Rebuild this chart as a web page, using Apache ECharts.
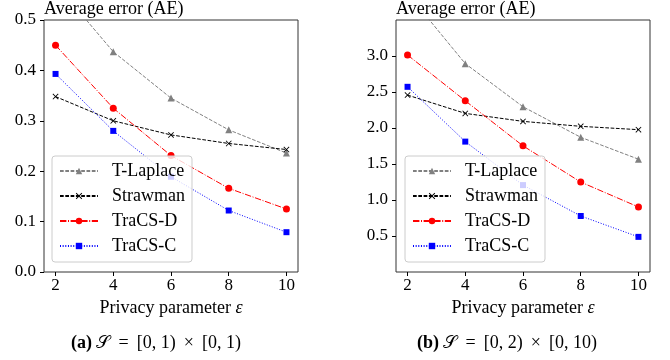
<!DOCTYPE html>
<html>
<head>
<meta charset="utf-8">
<script src="https://cdn.jsdelivr.net/npm/echarts@6/dist/echarts.min.js"></script>
<style>
  html, body { margin: 0; padding: 0; background: #fff; }
  #chart { width: 670px; height: 360px; }
</style>
</head>
<body>
<div id="chart"></div>
<script>
// privacy parameter epsilon
const epsilons = [2, 4, 6, 8, 10];
const seriesNames = ['T-Laplace', 'Strawman', 'TraCS-D', 'TraCS-C'];

// (a) S = [0,1) x [0,1)
const tLaplaceA = [0.572, 0.437, 0.345, 0.282, 0.236];
const strawmanA = [0.348, 0.300, 0.272, 0.255, 0.243];
const tracsDA = [0.450, 0.325, 0.231, 0.166, 0.125];
const tracsCA = [0.393, 0.280, 0.189, 0.122, 0.079];

// (b) S = [0,2) x [0,10)
const tLaplaceB = [3.87, 2.894, 2.295, 1.871, 1.567];
const strawmanB = [2.457, 2.203, 2.092, 2.023, 1.977];
const tracsDB = [3.014, 2.378, 1.752, 1.249, 0.903];
const tracsCB = [2.572, 1.811, 1.207, 0.778, 0.488];

const yTicksA = [0, 0.1, 0.2, 0.3, 0.4, 0.5];
const yTicksB = [0.5, 1.0, 1.5, 2.0, 2.5, 3.0];

const FONT = "'Liberation Serif', 'DejaVu Serif', serif";
const crossPath = 'path://M0,1L1,0L5,4L9,0L10,1L6,5L10,9L9,10L5,6L1,10L0,9L4,5Z';

const styles = {
  'T-Laplace': { color: '#808080', type: [3.7, 1.6], symbol: 'triangle', size: 7 },
  'Strawman': { color: '#000000', type: [3.7, 1.6], symbol: crossPath, size: 6 },
  'TraCS-D': { color: '#ff0000', type: [6.4, 1.6, 1, 1.6], symbol: 'circle', size: 7 },
  'TraCS-C': { color: '#0000ff', type: [1, 1.65], symbol: 'rect', size: 6 }
};

function pairs(vals) {
  return epsilons.map((e, i) => [e, vals[i]]);
}

function makeSeries(name, vals, idx) {
  const s = styles[name];
  return {
    name: name,
    type: 'line',
    xAxisIndex: idx,
    yAxisIndex: idx,
    data: pairs(vals),
    symbol: s.symbol,
    symbolSize: s.size,
    showAllSymbol: true,
    lineStyle: { color: s.color, width: 1, type: s.type },
    itemStyle: { color: s.color },
    emphasis: { disabled: true },
    animation: false
  };
}

function yAxisOf(idx, min, max, ticks) {
  return {
    type: 'value', gridIndex: idx, min: min, max: max,
    name: 'Average error (AE)',
    nameLocation: 'end', nameGap: 2,
    nameTextStyle: { fontFamily: FONT, fontSize: 18, color: '#000', align: 'left', verticalAlign: 'bottom' },
    axisLine: { show: false },
    axisTick: { show: true, length: 4, lineStyle: { color: '#000' }, customValues: ticks },
    axisLabel: { color: '#000', fontSize: 17, fontFamily: FONT, margin: 8,
      customValues: ticks, formatter: v => v.toFixed(1) },
    splitLine: { show: false }
  };
}

function caption(x, tag, text) {
  return {
    type: 'text',
    style: {
      x: x, y: 343, align: 'center', verticalAlign: 'middle',
      text: '{b|' + tag + '} {s|𝒮} \u2009=\u2009 ' + text,
      font: '18px ' + FONT, fill: '#000',
      rich: {
        b: { fontFamily: FONT, fontSize: 18, fontWeight: 'bold', fill: '#000' },
        s: { fontFamily: FONT, fontSize: 18, fill: '#000' }
      }
    }
  };
}

const chart = echarts.init(document.getElementById('chart'));

const gridLefts = [44, 396];

const option = {
  backgroundColor: '#fff',
  animation: false,
  textStyle: { fontFamily: FONT },
  grid: gridLefts.map(l => ({
    left: l, top: 19, width: 254, height: 253,
    show: true, borderColor: '#333', borderWidth: 1, backgroundColor: 'transparent'
  })),
  xAxis: [0, 1].map(i => ({
    type: 'value',
    gridIndex: i,
    min: 1.6,
    max: 10.4,
    name: 'Privacy parameter {i|ε}',
    nameLocation: 'middle',
    nameGap: 24,
    nameTextStyle: {
      fontFamily: FONT, fontSize: 18, color: '#000', verticalAlign: 'top',
      rich: { i: { fontFamily: FONT, fontSize: 18, fontStyle: 'italic', color: '#000' } }
    },
    axisLine: { show: false },
    axisTick: { show: true, length: 4, lineStyle: { color: '#000' }, customValues: epsilons },
    axisLabel: { color: '#000', fontSize: 17, fontFamily: FONT, margin: 5, customValues: epsilons },
    splitLine: { show: false }
  })),
  yAxis: [
    yAxisOf(0, 0, 0.5, yTicksA),
    yAxisOf(1, 0, 3.5, yTicksB)
  ],
  legend: [0, 1].map(i => ({
    orient: 'vertical',
    left: i === 0 ? 52 : 405,
    top: 156,
    data: seriesNames,
    itemWidth: 38,
    itemHeight: 8,
    itemGap: 7,
    padding: [6, 7, 7, 7],
    backgroundColor: 'rgba(255,255,255,0.8)',
    borderColor: '#cccccc',
    borderWidth: 1,
    borderRadius: 3,
    selectedMode: false,
    textStyle: { fontFamily: FONT, fontSize: 18, color: '#000', lineHeight: 18, padding: [0, 0, 0, 9] }
  })),
  graphic: [
    caption(156, '(a)', '[0, 1) \u2009×\u2009 [0, 1)'),
    caption(507, '(b)', '[0, 2) \u2009×\u2009 [0, 10)')
  ],
  series: [
    makeSeries('T-Laplace', tLaplaceA, 0),
    makeSeries('Strawman', strawmanA, 0),
    makeSeries('TraCS-D', tracsDA, 0),
    makeSeries('TraCS-C', tracsCA, 0),
    makeSeries('T-Laplace', tLaplaceB, 1),
    makeSeries('Strawman', strawmanB, 1),
    makeSeries('TraCS-D', tracsDB, 1),
    makeSeries('TraCS-C', tracsCB, 1)
  ]
};

chart.setOption(option);
</script>
</body>
</html>
